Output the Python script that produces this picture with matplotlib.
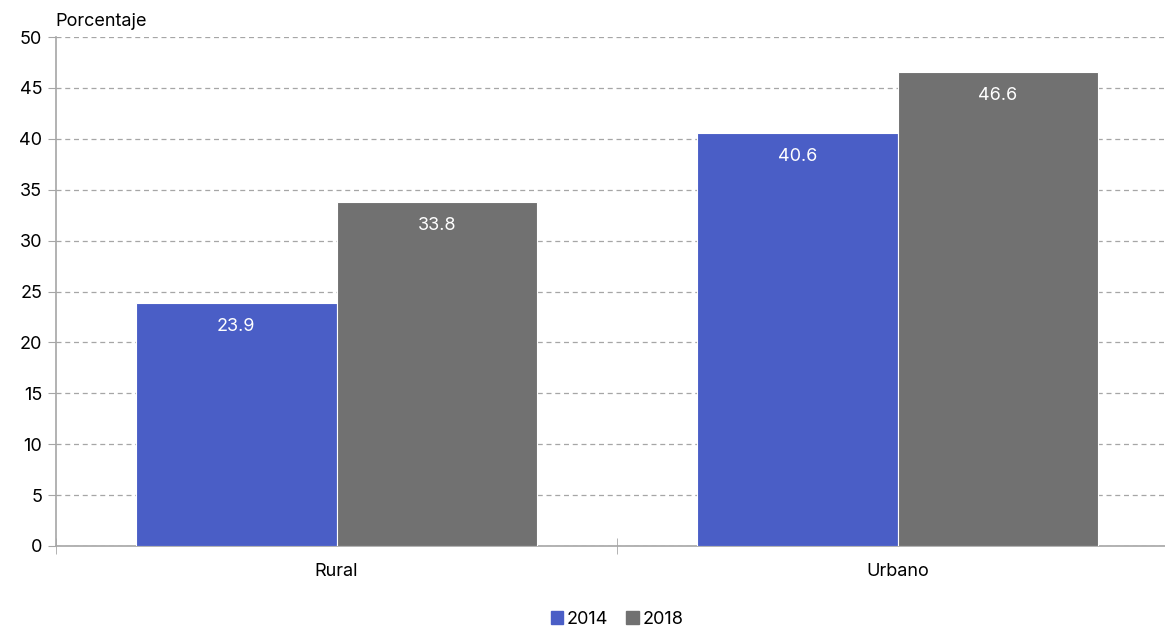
import matplotlib.pyplot as plt
import numpy as np
from matplotlib.patches import Patch

plt.rcParams["font.family"] = ["Inter", "DejaVu Sans"]

zonas = ["Rural", "Urbano"]
anios = ["2014", "2018"]
valores_2014 = [23.9, 40.6]
valores_2018 = [33.8, 46.6]
colores = ["#4A5EC6", "#717171"]

fig = plt.figure(figsize=(11.65, 6.27), dpi=100)
ax = fig.add_axes([56 / 1165, 1 - 546 / 627, 1122 / 1165, 509 / 627])

x = np.arange(len(zonas))
ancho = 0.357
series = [valores_2014, valores_2018]
for i, (vals, col) in enumerate(zip(series, colores)):
    pos = x + (i - 0.5) * ancho
    barras = ax.bar(pos, vals, width=ancho, color=col, edgecolor="white",
                    linewidth=0.8, zorder=3)
    for b, v in zip(barras, vals):
        ax.annotate(f"{v:.1f}", (b.get_x() + b.get_width() / 2, v),
                    xytext=(0, -24), textcoords="offset pixels",
                    ha="center", va="center", color="white", fontsize=13,
                    zorder=4)

ax.set_xlim(-0.5, 1.5)
ax.set_ylim(0, 50)
ax.set_yticks(np.arange(0, 51, 5))
ax.yaxis.grid(True, linestyle=(0, (4, 3)), color="#A6A6A6", linewidth=0.9,
              zorder=0)
ax.set_xticks(x)
ax.set_xticklabels(zonas)
ax.set_xticks([-0.5, 0.5, 1.5], minor=True)
ax.tick_params(axis="x", which="major", length=0, pad=12, labelsize=13)
ax.tick_params(axis="x", which="minor", length=12, direction="inout",
               color="#A6A6A6")
ax.tick_params(axis="y", length=6, color="#A6A6A6", labelsize=13, pad=4)

for s in ["top", "right"]:
    ax.spines[s].set_visible(False)
for s in ["left", "bottom"]:
    ax.spines[s].set_color("#A6A6A6")
    ax.spines[s].set_linewidth(1.2)

fig.text(55 / 1165, 1 - 22 / 627, "Porcentaje", fontsize=13, va="center",
         ha="left")

handles = [Patch(color=c, label=l) for c, l in zip(colores, anios)]
fig.legend(handles=handles, loc="center",
           bbox_to_anchor=(617 / 1165, 1 - 619 / 627),
           ncol=2, frameon=False, fontsize=13, handlelength=0.7,
           handleheight=0.7, handletextpad=0.2, columnspacing=1.0)

fig.savefig("out.png", dpi=100)
